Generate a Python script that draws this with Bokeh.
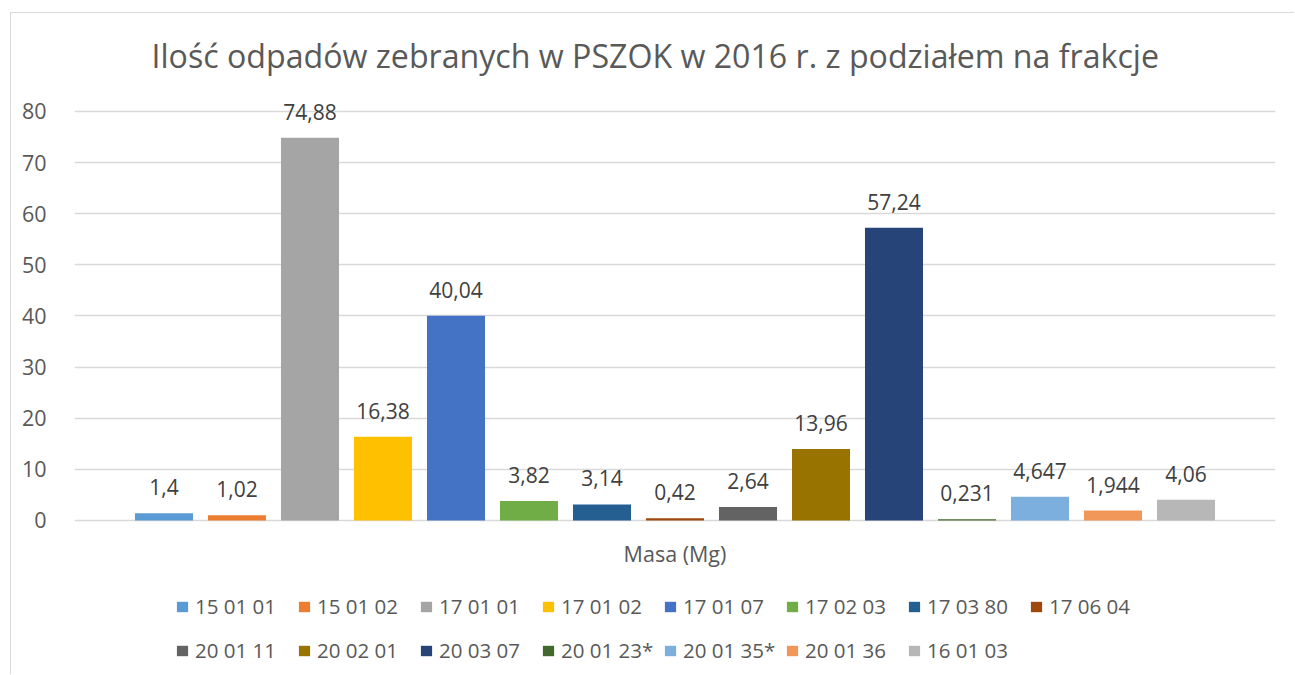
from bokeh.plotting import figure
from bokeh.models import Range1d, FixedTicker, Legend, LegendItem, ColumnDataSource, LabelSet, Label
from bokeh.core.properties import value
from bokeh.embed import file_html
from bokeh.resources import INLINE

series = ["15 01 01", "15 01 02", "17 01 01", "17 01 02", "17 01 07", "17 02 03", "17 03 80", "17 06 04",
          "20 01 11", "20 02 01", "20 03 07", "20 01 23*", "20 01 35*", "20 01 36", "16 01 03"]
values = [1.4, 1.02, 74.88, 16.38, 40.04, 3.82, 3.14, 0.42, 2.64, 13.96, 57.24, 0.231, 4.647, 1.944, 4.06]
colors = ["#5B9BD5", "#ED7D31", "#A5A5A5", "#FFC000", "#4472C4", "#70AD47", "#255E91", "#9E480E",
          "#636363", "#997300", "#264478", "#43682B", "#7CAFDD", "#F1975A", "#B7B7B7"]
yticks = [0, 10, 20, 30, 40, 50, 60, 70, 80]
category = "Masa (Mg)"
title = "Ilość odpadów zebranych w PSZOK w 2016 r. z podziałem na frakcje"

FONT = "Open Sans"
TXT = "#595959"

n = len(series)
xs = list(range(n))
labels = [str(v).replace(".", ",") for v in values]

p = figure(width=1284, height=662, output_backend="svg", toolbar_location=None,
           x_axis_location=None,
           x_range=Range1d(-1.226, n - 1 + 1.226), y_range=Range1d(-30.32, 83.912),
           min_border_left=63, min_border_right=20, min_border_top=78, min_border_bottom=0)
p.margin = (12, 0, 0, 10)
p.styles = {"border-top": "1px solid #D9D9D9", "border-left": "1px solid #D9D9D9"}

p.title.text = title
p.title.text_font = FONT
p.title.text_font_size = "32.15px"
p.title.text_font_style = "normal"
p.title.text_color = TXT
p.title.align = "left"
p.title.offset = 77
p.title.standoff = 30

items = []
for i in range(n):
    r = p.vbar(x=[xs[i]], top=[values[i]], width=0.795, fill_color=colors[i], line_color=None)
    items.append(LegendItem(label=series[i], renderers=[r]))

src = ColumnDataSource(dict(x=xs, y=values, t=labels))
p.add_layout(LabelSet(x="x", y="y", text="t", source=src, text_align="center", text_baseline="middle",
                      y_offset=26, text_font=value(FONT), text_font_size=value("21px"),
                      text_color=value("#404040")))

p.add_layout(Label(x=(n - 1) / 2, y=0, y_offset=-33, text=category, text_align="center",
                   text_baseline="middle", text_font=FONT, text_font_size="21.5px", text_color=TXT))

p.yaxis.ticker = FixedTicker(ticks=yticks)
p.yaxis.axis_line_color = None
p.yaxis.major_tick_line_color = None
p.yaxis.minor_tick_line_color = None
p.yaxis.major_label_text_font = FONT
p.yaxis.major_label_text_font_size = "21.5px"
p.yaxis.major_label_text_color = TXT
p.yaxis.major_label_standoff = 22

p.xgrid.grid_line_color = None
p.ygrid.grid_line_color = "#D9D9D9"
p.ygrid.grid_line_width = 1.5
p.outline_line_color = None

legend = Legend(items=items, ncols=8, location=(101, 5), orientation="horizontal",
                glyph_width=14, glyph_height=13, label_standoff=6, spacing=4,
                label_text_font=FONT, label_text_font_size="20.5px", label_text_color=TXT,
                label_width=98, label_height=40, border_line_color=None, background_fill_alpha=0,
                padding=0, margin=0)
p.add_layout(legend)

open("out.html", "w").write(file_html(p, INLINE))
